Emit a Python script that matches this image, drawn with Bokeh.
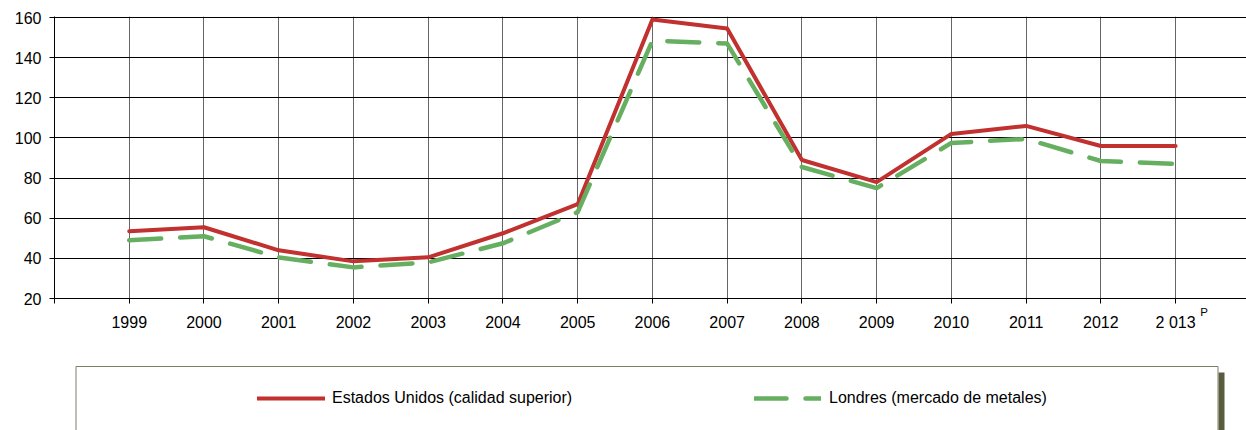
from bokeh.plotting import figure
from bokeh.models import (Range1d, FixedTicker, Legend, LegendItem, LinearAxis,
                          CustomJSTickFormatter, ColumnDataSource)
from bokeh.layouts import column
from bokeh.embed import file_html
from bokeh.resources import INLINE

years = [1999, 2000, 2001, 2002, 2003, 2004, 2005, 2006, 2007, 2008, 2009, 2010, 2011, 2012, 2013]
estados_unidos = [53.5, 55.5, 44, 38.5, 40.5, 52.5, 67, 159, 154.5, 89, 78, 102, 106, 96, 96]
londres = [49, 51, 40.5, 35.5, 38, 47.5, 63, 148.5, 147, 85.5, 75, 97.5, 99.5, 88.5, 87]
year_labels = {1998: "", 1999: "1999", 2000: "2000", 2001: "2001", 2002: "2002", 2003: "2003",
               2004: "2004", 2005: "2005", 2006: "2006", 2007: "2007", 2008: "2008",
               2009: "2009", 2010: "2010", 2011: "2011", 2012: "2012", 2013: "2 013"}
y_ticks = [20, 40, 60, 80, 100, 120, 140, 160]
series_names = ["Estados Unidos (calidad superior)", "Londres (mercado de metales)"]

RED = "#C0312F"
GREEN = "#67AF60"
FONT = "Liberation Sans"

p = figure(width=1246, height=360, output_backend="svg", toolbar_location=None,
           x_range=Range1d(1998, 1998 + 1192 / 74.74), y_range=Range1d(20, 160.5),
           min_border_left=54, min_border_right=0, min_border_top=16, min_border_bottom=62)
p.outline_line_color = None
p.background_fill_color = "white"

p.line(years, estados_unidos, line_color=RED, line_width=4, line_join="round", line_cap="round")
p.line(years, londres, line_color=GREEN, line_width=4.5, line_dash="32 19",
       line_join="round", line_cap="round")

p.xaxis.ticker = FixedTicker(ticks=list(year_labels.keys()))
p.xaxis.major_label_overrides = year_labels
p.xaxis.minor_tick_line_color = None
p.xaxis.major_tick_out = 5
p.xaxis.major_tick_in = 0
p.xaxis.major_label_standoff = 10
p.xaxis.axis_line_color = "black"
p.xaxis.major_tick_line_color = "black"

p.yaxis.ticker = FixedTicker(ticks=y_ticks)
p.yaxis.minor_tick_line_color = None
p.yaxis.major_tick_out = 5
p.yaxis.major_tick_in = 0
p.yaxis.major_label_standoff = 8
p.yaxis.axis_line_color = "black"
p.yaxis.major_tick_line_color = "black"

for ax in (p.xaxis, p.yaxis):
    ax.major_label_text_font = FONT
    ax.major_label_text_font_size = "16px"
    ax.major_label_text_color = "black"

# superscript "P" next to the last year label
sup_axis = LinearAxis(ticker=FixedTicker(ticks=[2013.38]),
                      formatter=CustomJSTickFormatter(code="return 'P'"),
                      axis_line_color=None, major_tick_line_color=None,
                      minor_tick_line_color=None, major_tick_out=0, major_tick_in=0,
                      major_label_standoff=-28, major_label_text_font=FONT,
                      major_label_text_font_size="11.5px", major_label_text_color="black")
p.add_layout(sup_axis, "below")

p.xgrid.ticker = FixedTicker(ticks=years)
p.xgrid.grid_line_color = "#666666"
p.ygrid.ticker = FixedTicker(ticks=y_ticks)
p.ygrid.grid_line_color = "black"

# legend panel (data units = page pixels)
lg = figure(width=1246, height=70, output_backend="svg", toolbar_location=None,
            x_range=Range1d(54, 1246), y_range=Range1d(430, 360),
            min_border_left=54, min_border_right=0, min_border_top=0, min_border_bottom=0)
lg.axis.visible = False
lg.grid.visible = False
lg.outline_line_color = None
lg.quad(left=[1218], right=[1224], top=[372], bottom=[450], fill_color="#5B5B3E", line_color=None)
lg.quad(left=[75.5], right=[1217.5], top=[366], bottom=[450], fill_color="white",
        line_color="#7E7E66", line_width=1)

dummy = ColumnDataSource(data=dict(x=[0, 1], y=[1000, 1000]))
r1 = lg.line("x", "y", source=dummy, line_color=RED, line_width=4, line_cap="round")
r2 = lg.line("x", "y", source=dummy, line_color=GREEN, line_width=4.5, line_dash="32 19",
             line_cap="round")

leg1 = Legend(items=[LegendItem(label=series_names[0], renderers=[r1])],
              location=(203, 22), glyph_width=68, glyph_height=20, label_height=20,
              label_standoff=7, padding=0, margin=0, border_line_alpha=0,
              background_fill_alpha=0, label_text_font=FONT, label_text_font_size="16px",
              label_text_color="black")
leg2 = Legend(items=[LegendItem(label=series_names[1], renderers=[r2])],
              location=(700, 22), glyph_width=67, glyph_height=20, label_height=20,
              label_standoff=8, padding=0, margin=0, border_line_alpha=0,
              background_fill_alpha=0, label_text_font=FONT, label_text_font_size="16px",
              label_text_color="black")
lg.add_layout(leg1)
lg.add_layout(leg2)

layout = column(p, lg, spacing=0)
open("out.html", "w").write(file_html(layout, INLINE))
